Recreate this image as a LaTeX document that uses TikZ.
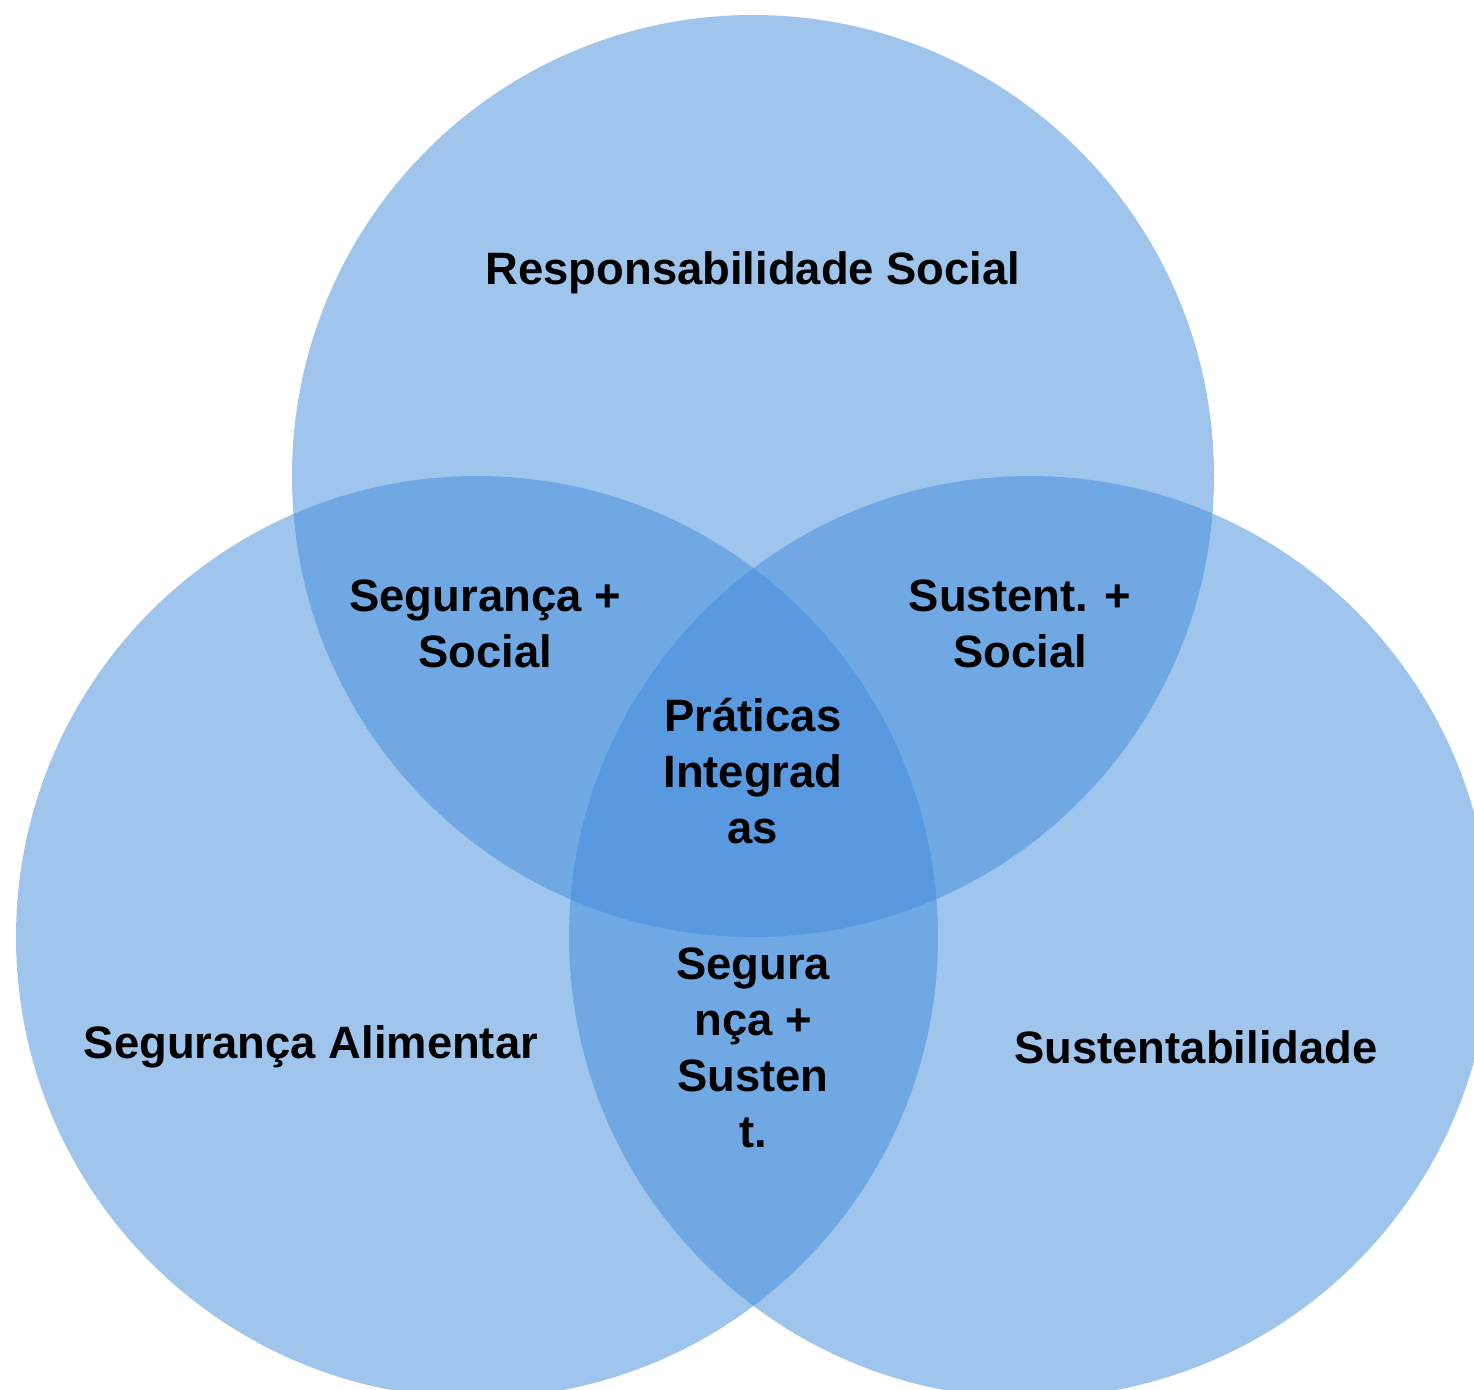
\documentclass[tikz,border=0pt]{standalone}
\usepackage{fontspec}
\setmainfont{Liberation Sans}
\definecolor{vennblue}{RGB}{66,140,220}
\begin{document}
\begin{tikzpicture}[x=0.5pt,y=-0.5pt,
  venn/.style={fill=vennblue,fill opacity=0.5,draw=none},
  lbl/.style={font=\fontsize{22.7}{28}\selectfont\bfseries,text=black,align=center,inner sep=0pt}]
\useasboundingbox[fill=white] (0,0) rectangle (1474,1390);
\begin{scope}
\clip (0,0) rectangle (1474,1390);
\fill[venn] (753,476) circle[radius=461];
\fill[venn] (477,937) circle[radius=461];
\fill[venn] (1030,937) circle[radius=461];
\end{scope}
\node[lbl] (rs) at (753,273) {Responsabilidade Social};
\node[lbl] (ss) at (485,624) {Segurança +\\Social};
\node[lbl] (sts) at (1020,624) {Sustent. +\\Social};
\node[lbl] (pi) at (753,771) {Práticas\\Integrad\\as};
\node[lbl] (sst) at (753,1048) {Segura\\nça +\\Susten\\t.};
\node[lbl] (sa) at (311,1047) {Segurança Alimentar};
\node[lbl] (su) at (1196,1047) {Sustentabilidade};
\end{tikzpicture}
\end{document}
